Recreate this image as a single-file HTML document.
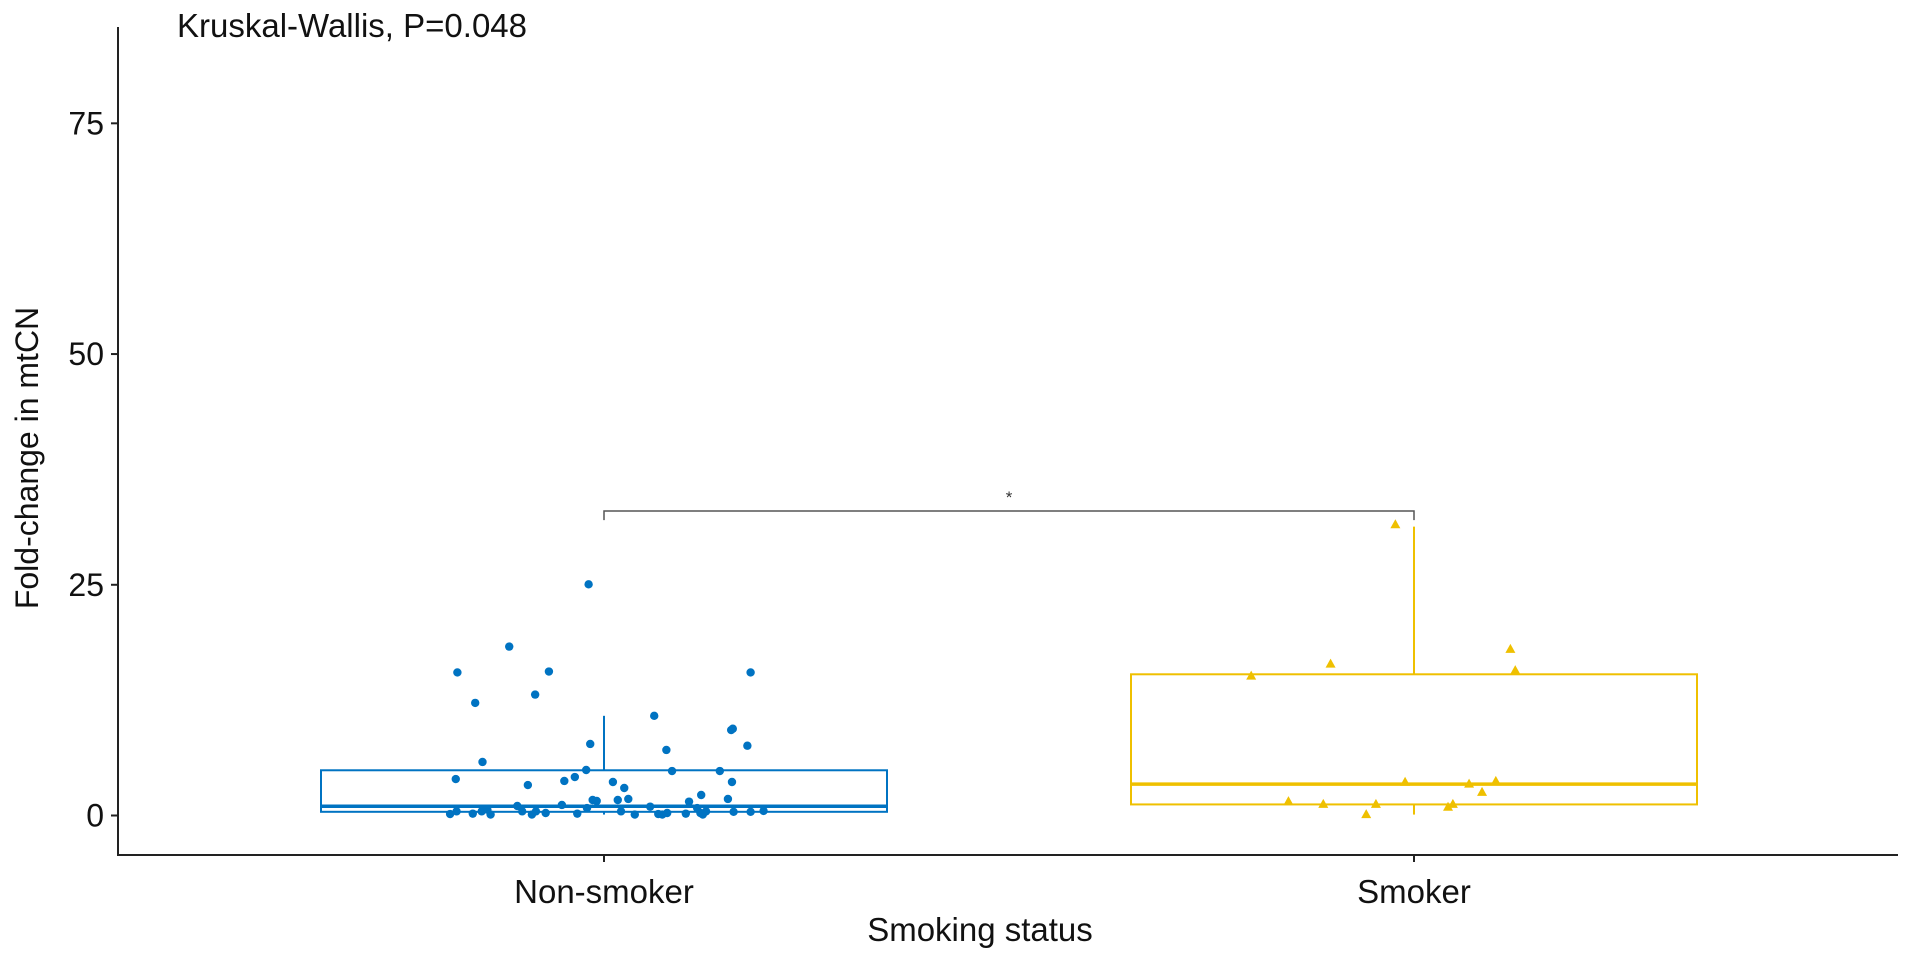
<!DOCTYPE html>
<html><head><meta charset="utf-8"><style>
html,body{margin:0;padding:0;background:#fff;}
svg{display:block;font-family:"Liberation Sans",Arial,sans-serif;}
</style></head><body>
<svg id="chart" width="1914" height="961" viewBox="0 0 1914 961"></svg>
<script>
const categories = ["Non-smoker","Smoker"];
const yTicks = [0,25,50,75];
// box stats: [lowerWhisker, q1, median, q3, upperWhisker]
const nonSmokerStats = [0.1, 0.4, 1.0, 4.9, 10.8];
const smokerStats = [0.1, 1.2, 3.4, 15.3, 31.3];
const nonSmokerValues = [25.05,18.3,15.5,15.6,15.5,12.2,13.1,10.8,9.26,9.4,7.75,7.56,7.1,5.8,4.93,4.82,4.82,3.95,4.17,3.74,3.63,3.63,3.3,2.98,2.22,1.68,1.79,1.79,1.68,1.57,1.5,1.03,1.14,0.96,0.8,
 0.16,0.45,0.2,0.45,0.63,0.1,0.45,0.1,0.45,0.27,0.2,0.8,0.45,0.1,0.16,0.1,0.27,0.2,0.27,0.1,0.45,0.4,0.4,0.5];
const nonSmokerJitter = [-0.019,-0.117,-0.181,-0.068,0.181,-0.159,-0.085,0.062,0.157,0.159,-0.017,0.177,0.077,-0.150,-0.022,0.084,0.143,-0.183,-0.036,-0.049,0.011,0.158,-0.094,0.025,0.120,0.017,0.030,0.153,-0.014,-0.009,0.105,-0.107,-0.052,0.057,0.115,
 -0.190,-0.182,-0.162,-0.151,-0.144,-0.140,-0.101,-0.089,-0.084,-0.072,-0.033,-0.021,0.021,0.038,0.067,0.072,0.078,0.101,0.119,0.122,0.126,0.160,0.181,0.197];
const smokerValues = [31.5,18.0,15.7,16.4,15.1,3.6,3.4,3.7,2.5,1.5,1.2,1.2,1.2,0.9,0.1];
const smokerJitter = [-0.023,0.119,0.125,-0.103,-0.201,-0.011,0.068,0.101,0.084,-0.155,-0.112,-0.047,0.048,0.042,-0.059];
const pValueLabel = "Kruskal-Wallis, P=0.048";
const bracketValue = 33;

const svg = document.getElementById('chart');
const NS = "http://www.w3.org/2000/svg";
const X0 = 118, Y0 = 855, XR = 1898, YT = 27;
const yZero = 815.5, pxPerUnit = 9.229;
const catX0 = 604, catStep = 810, halfBox = 283;
function y(v){ return yZero - v*pxPerUnit; }
function x(i){ return catX0 + i*catStep; }
function mk(tag, attrs, parent){
  const e = document.createElementNS(NS, tag);
  for (const k in attrs) e.setAttribute(k, attrs[k]);
  (parent||svg).appendChild(e); return e;
}
function txt(s, attrs, parent){ const e = mk('text', attrs, parent); e.textContent = s; return e; }

const colors = ["#0073C2","#EFC000"];
const stats = [nonSmokerStats, smokerStats];
const vals = [nonSmokerValues, smokerValues];
const jit = [nonSmokerJitter, smokerJitter];

for (let i=0;i<2;i++){
  const g = mk('g', {});
  
  
  const s = stats[i], c = colors[i], cx = x(i);
  const w1 = mk('line',{x1:cx,x2:cx,y1:y(s[3]),y2:y(s[4]),stroke:c,'stroke-width':2},g);
  
  
  const w2 = mk('line',{x1:cx,x2:cx,y1:y(s[0]),y2:y(s[1]),stroke:c,'stroke-width':2},g);
  
  
  const r = mk('rect',{x:cx-halfBox,y:y(s[3]),width:2*halfBox,height:y(s[1])-y(s[3]),fill:'none',stroke:c,'stroke-width':2},g);
  
  
  const m = mk('line',{x1:cx-halfBox,x2:cx+halfBox,y1:y(s[2]),y2:y(s[2]),stroke:c,'stroke-width':3.5},g);
  
  
  vals[i].forEach((v,k)=>{
    const px = cx + jit[i][k]*catStep, py = y(v);
    let p;
    if (i===0) p = mk('circle',{cx:px,cy:py,r:4.2,fill:c},g);
    else p = mk('polygon',{points:`${px},${py-5.5} ${px-5},${py+3.5} ${px+5},${py+3.5}`,fill:c},g);
    
    
  });
}

// bracket
const by = y(bracketValue), be = y(bracketValue-1);
const br = mk('path',{d:`M${x(0)},${be} L${x(0)},${by} L${x(1)},${by} L${x(1)},${be}`,fill:'none',stroke:'#555','stroke-width':1.5});


const st = txt('*',{x:(x(0)+x(1))/2,y:by-8,'font-size':17,'text-anchor':'middle',fill:'#333'});



// axes
const ya = mk('line',{x1:X0,x2:X0,y1:YT,y2:Y0,stroke:'#222','stroke-width':2});


const xa = mk('line',{x1:X0-1,x2:XR,y1:Y0,y2:Y0,stroke:'#222','stroke-width':2});


yTicks.forEach(t=>{
  const l = mk('line',{x1:X0-7,x2:X0,y1:y(t),y2:y(t),stroke:'#222','stroke-width':2});
  
  
  const tl = txt(String(t),{x:X0-14,y:y(t)+11,'font-size':32,'text-anchor':'end',fill:'#111'});
  
  
});
categories.forEach((c,i)=>{
  const l = mk('line',{x1:x(i),x2:x(i),y1:Y0,y2:Y0+7,stroke:'#222','stroke-width':2});
  
  
  const tl = txt(c,{x:x(i),y:903,'font-size':33,'text-anchor':'middle',fill:'#111'});
  
  
});
const xt = txt('Smoking status',{x:980,y:941,'font-size':33,'text-anchor':'middle',fill:'#111'});


const yt = txt('Fold-change in mtCN',{x:0,y:0,'font-size':32,'text-anchor':'middle',fill:'#111',transform:'translate(38,458) rotate(-90)'});


const pv = txt(pValueLabel,{x:177,y:37,'font-size':33,fill:'#111'});


</script>
</body></html>
